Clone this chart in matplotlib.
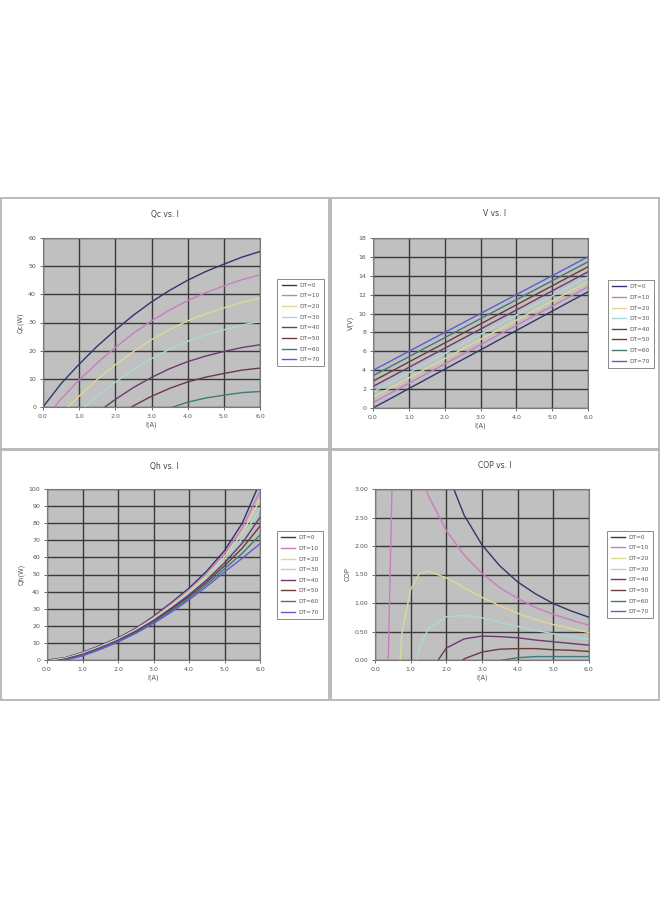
import numpy as np
import matplotlib
matplotlib.use("Agg")
import matplotlib.pyplot as plt
from matplotlib.patches import Rectangle

# --- data ---
current = [0.0, 0.5, 1.0, 1.5, 2.0, 2.5, 3.0, 3.5, 4.0, 4.5, 5.0, 5.5, 6.0]
cop_current = [0.25, 0.5, 0.75, 1.0, 1.25, 1.5, 2.0, 2.5, 3.0, 3.5, 4.0, 4.5, 5.0, 5.5, 6.0]
series_names = ["DT=0", "DT=10", "DT=20", "DT=30", "DT=40", "DT=50", "DT=60", "DT=70"]

qc = [
    [0.0, 8.3, 15.2, 21.6, 27.3, 32.6, 37.3, 41.4, 45.0, 48.1, 50.7, 53.2, 55.2],
    [-5.1, 2.9, 9.6, 15.7, 21.1, 26.2, 30.6, 34.4, 37.8, 40.6, 43.0, 45.2, 46.9],
    [-10.2, -2.4, 3.9, 9.8, 15.0, 19.7, 23.9, 27.5, 30.6, 33.1, 35.2, 37.2, 38.6],
    [-15.3, -7.8, -1.7, 3.9, 8.8, 13.3, 17.2, 20.5, 23.3, 25.6, 27.4, 29.1, 30.4],
    [-20.4, -13.2, -7.3, -2.0, 2.7, 6.9, 10.5, 13.6, 16.1, 18.1, 19.7, 21.1, 22.1],
    [-25.5, -18.6, -13.0, -7.9, -3.5, 0.4, 3.8, 6.6, 8.9, 10.6, 11.9, 13.1, 13.8],
    [-30.6, -23.9, -18.6, -13.8, -9.7, -6.0, -2.8, -0.4, 1.7, 3.2, 4.2, 5.1, 5.5],
    [-35.7, -29.3, -24.2, -19.7, -15.8, -12.4, -9.5, -7.3, -5.5, -4.3, -3.6, -2.9, -2.8],
]

volt = [
    [0.00, 1.02, 2.05, 3.08, 4.10, 5.13, 6.15, 7.18, 8.20, 9.23, 10.25, 11.28, 12.30],
    [0.57, 1.59, 2.61, 3.64, 4.66, 5.68, 6.70, 7.73, 8.74, 9.77, 10.79, 11.81, 12.83],
    [1.14, 2.15, 3.18, 4.20, 5.21, 6.24, 7.25, 8.27, 9.29, 10.31, 11.32, 12.35, 13.36],
    [1.71, 2.72, 3.74, 4.76, 5.77, 6.79, 7.80, 8.82, 9.83, 10.85, 11.86, 12.88, 13.89],
    [2.28, 3.29, 4.30, 5.32, 6.33, 7.34, 8.35, 9.37, 10.37, 11.39, 12.40, 13.41, 14.42],
    [2.85, 3.85, 4.87, 5.88, 6.88, 7.90, 8.90, 9.91, 10.92, 11.93, 12.93, 13.95, 14.95],
    [3.42, 4.42, 5.43, 6.44, 7.44, 8.45, 9.45, 10.46, 11.46, 12.47, 13.47, 14.48, 15.48],
    [3.99, 4.99, 5.99, 7.00, 8.00, 9.00, 10.00, 11.01, 12.00, 13.01, 14.01, 15.01, 16.01],
]

qh = [
    [0.0, 1.3, 4.5, 8.5, 13.0, 18.5, 25.5, 33.5, 42.0, 52.0, 64.0, 80.0, 104.0],
    [-0.3, 1.1, 4.2, 8.2, 12.6, 18.1, 24.9, 32.7, 41.0, 50.7, 62.2, 77.1, 98.9],
    [-0.6, 0.9, 3.9, 7.8, 12.3, 17.7, 24.3, 31.9, 40.1, 49.4, 60.4, 74.1, 93.7],
    [-0.9, 0.7, 3.6, 7.5, 11.9, 17.3, 23.7, 31.1, 39.1, 48.1, 58.6, 71.2, 88.6],
    [-1.2, 0.5, 3.3, 7.2, 11.6, 16.9, 23.1, 30.3, 38.1, 46.8, 56.8, 68.3, 83.4],
    [-1.5, 0.3, 3.0, 6.9, 11.2, 16.5, 22.6, 29.6, 37.2, 45.6, 55.1, 65.4, 78.3],
    [-1.8, 0.1, 2.7, 6.5, 10.9, 16.0, 22.0, 28.8, 36.2, 44.3, 53.3, 62.4, 73.1],
    [-2.1, -0.1, 2.4, 6.2, 10.5, 15.6, 21.4, 28.0, 35.2, 43.0, 51.5, 59.5, 68.0],
]

cop = [
    [33.7, 16.3, 10.3, 7.41, 5.78, 4.68, 3.33, 2.54, 2.02, 1.65, 1.37, 1.16, 0.99, 0.86, 0.75],
    [-3.45, 3.69, 4.05, 3.66, 3.26, 2.88, 2.27, 1.84, 1.52, 1.27, 1.08, 0.92, 0.80, 0.70, 0.61],
    [-15.0, -2.27, 0.45, 1.24, 1.52, 1.56, 1.44, 1.27, 1.10, 0.95, 0.82, 0.71, 0.62, 0.55, 0.48],
    [-20.6, -5.74, -1.90, -0.45, 0.23, 0.55, 0.76, 0.78, 0.74, 0.66, 0.59, 0.52, 0.46, 0.41, 0.36],
    [-23.9, -8.0, -3.54, -1.70, -0.76, -0.25, 0.21, 0.37, 0.42, 0.41, 0.39, 0.35, 0.32, 0.29, 0.26],
    [-26.1, -9.6, -4.77, -2.66, -1.53, -0.90, -0.25, 0.02, 0.14, 0.19, 0.20, 0.20, 0.18, 0.17, 0.15],
    [-27.6, -10.8, -5.70, -3.42, -2.17, -1.43, -0.65, -0.28, -0.10, -0.01, 0.04, 0.06, 0.06, 0.06, 0.06],
    [-28.8, -11.7, -6.45, -4.04, -2.69, -1.88, -0.99, -0.55, -0.32, -0.19, -0.11, -0.07, -0.05, -0.04, -0.03],
]

# excel 2003 default line colours, washed out like the picture
colors = ["#34346e", "#c97cc0", "#ddd894", "#a6dada", "#6a3a6e", "#6e3a3a", "#3f7a7a", "#5c5cd0"]

W, H = 660, 900
fig = plt.figure(figsize=(6.6, 9), dpi=100)
fig.patch.set_facecolor("white")

txt = "#555555"

def fx(px):
    return px / W

def fy(py):
    return 1 - py / H

# panel frames (chart areas)
for (x0, y0, x1, y1) in [(1, 198, 329, 449), (331, 198, 659, 449),
                         (1, 450, 329, 700), (331, 450, 659, 700)]:
    fig.add_artist(Rectangle((fx(x0), fy(y1)), fx(x1 - x0), (y1 - y0) / H,
                             transform=fig.transFigure, fill=False,
                             edgecolor="#b4b4b4", lw=1.3))

charts = [
    # title, x-data, y-data, ylabel, yticks, yfmt, plot box, legend box, panel
    ("Qc vs. I", current, qc, "Qc(W)", np.arange(0, 61, 10), "%d",
     (43, 238, 260, 407), (277, 277, 324, 368), (0, 198, 329, 449)),
    ("V vs. I", current, volt, "V(V)", np.arange(0, 19, 2), "%d",
     (373, 238, 588, 408), (607, 278, 655, 370), (330, 198, 660, 449)),
    ("Qh vs. I", current, qh, "Qh(W)", np.arange(0, 101, 10), "%d",
     (47, 489, 260, 660), (277, 528, 323, 622), (0, 450, 329, 700)),
    ("COP vs. I", cop_current, cop, "COP", np.arange(0, 3.01, 0.5), "%.2f",
     (375, 489, 589, 660), (606, 528, 654, 621), (330, 450, 660, 700)),
]

for title, xs, ys, ylab, yt, yfmt, box, lbox, panel in charts:
    l, t, r, b = box
    ax = fig.add_axes([fx(l), fy(b), fx(r - l), (b - t) / H])
    ax.set_facecolor("#c0c0c0")
    for k, yv in enumerate(ys):
        ax.plot(xs, yv, color=colors[k], lw=1.0, label=series_names[k])
    ax.set_xlim(0, 6)
    ax.set_ylim(yt[0], yt[-1])
    ax.set_xticks(np.arange(0, 6.01, 1.0))
    ax.set_xticklabels(["%.1f" % v for v in np.arange(0, 6.01, 1.0)])
    ax.set_yticks(yt)
    ax.set_yticklabels([yfmt % v for v in yt])
    ax.grid(True, color="#3a3a3a", lw=1.0)
    ax.set_axisbelow(True)
    ax.tick_params(labelsize=4.5, colors=txt, length=2, width=0.6, pad=3)
    for s in ax.spines.values():
        s.set_color("#7a7a7a")
        s.set_linewidth(0.8)

    px0, py0, px1, py1 = panel
    fig.text(fx((px0 + px1) / 2), fy(py0 + 16), title, ha="center", va="center",
             fontsize=5.5, color="#444444")
    ax.set_xlabel("I(A)", fontsize=4.8, color=txt, labelpad=2)
    ax.set_ylabel(ylab, fontsize=4.8, color=txt, labelpad=3)

    ll, lt, lr, lb = lbox
    leg = ax.legend(loc="center", bbox_to_anchor=(fx((ll + lr) / 2), fy((lt + lb) / 2)),
                    bbox_transform=fig.transFigure, fontsize=4.2, frameon=True,
                    fancybox=False, edgecolor="#8a8a8a", framealpha=1,
                    handlelength=2.4, labelspacing=0.95, borderpad=0.7,
                    handletextpad=0.6)
    leg.get_frame().set_linewidth(0.7)
    for tx in leg.get_texts():
        tx.set_color(txt)

fig.savefig("out.png", dpi=100, facecolor="white")
